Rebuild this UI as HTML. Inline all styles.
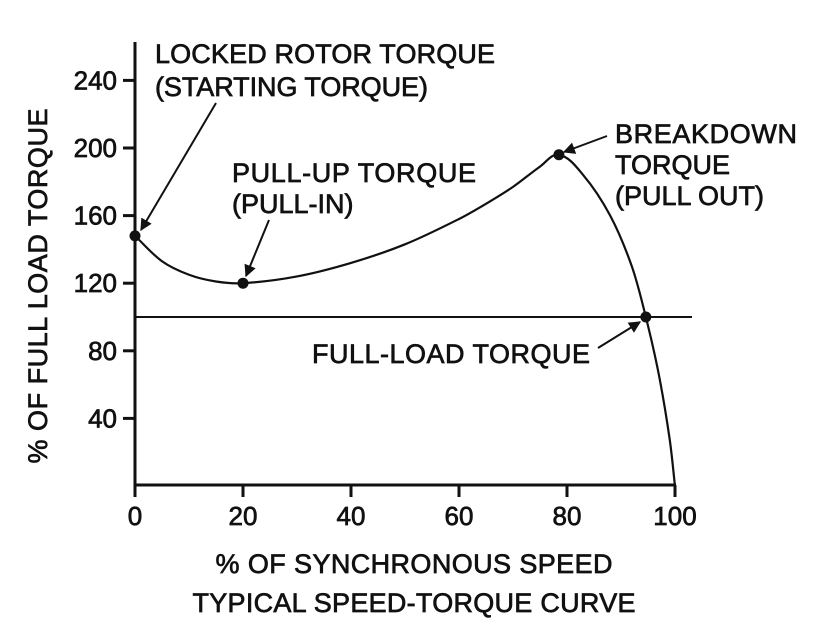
<!DOCTYPE html>
<html><head><meta charset="utf-8"><style>
body{margin:0;background:#fff}
svg text{font-family:"Liberation Sans",Arial,sans-serif;fill:#111;stroke:#111;stroke-width:0.7}
</style></head><body>
<svg id="chart" width="829" height="627" viewBox="0 0 829 627" xmlns="http://www.w3.org/2000/svg">
<defs><marker id="ah" viewBox="0 0 10 10" refX="9" refY="5" markerWidth="8" markerHeight="6" markerUnits="strokeWidth" orient="auto"><path d="M0,0L10,5L0,10z" fill="#111"/></marker></defs>
<g id="axes"></g><g id="marks"></g>
<g font-size="27">
<text x="155" y="63" textLength="340">LOCKED ROTOR TORQUE</text>
<text x="155" y="96" textLength="273">(STARTING TORQUE)</text>
<text x="232" y="182" textLength="244">PULL-UP TORQUE</text>
<text x="232" y="213">(PULL-IN)</text>
<text x="615" y="143" textLength="182">BREAKDOWN</text>
<text x="615" y="174">TORQUE</text>
<text x="615" y="205">(PULL OUT)</text>
<text x="312" y="363" textLength="278">FULL-LOAD TORQUE</text>
<text x="414" y="573" text-anchor="middle" textLength="397">% OF SYNCHRONOUS SPEED</text>
<text x="414" y="612" text-anchor="middle" textLength="443">TYPICAL SPEED-TORQUE CURVE</text>
<text transform="translate(47,286) rotate(-90)" text-anchor="middle" textLength="355">% OF FULL LOAD TORQUE</text>
</g>
<g>
<line x1="216" y1="103" x2="141" y2="230" stroke="#111" stroke-width="2" marker-end="url(#ah)"/>
<line x1="269" y1="220" x2="246" y2="276" stroke="#111" stroke-width="2" marker-end="url(#ah)"/>
<line x1="607" y1="136" x2="564" y2="152" stroke="#111" stroke-width="2" marker-end="url(#ah)"/>
<line x1="598" y1="348" x2="640" y2="322" stroke="#111" stroke-width="2" marker-end="url(#ah)"/>
</g>
</svg>
<script>
const xTicks=[0,20,40,60,80,100];
const yTicks=[40,80,120,160,200,240];
const speed=[0,5,10,15,20,30,40,50,60,65,70,75,78.5,83,88,92,94.6,97,99,100];
const torque=[148,133,125,121,120,124,132,143,158,167,177,189,196,184,160,130,100,66,28,0];
const keySpeed=[0,20,78.5,94.6];
const keyTorque=[148,120,196,100];
const fullLoad=100;
const sx=v=>135+v*5.4, sy=v=>486-v*1.69;
const NS="http://www.w3.org/2000/svg";
function mk(t,a,p){const e=document.createElementNS(NS,t);for(const k in a)e.setAttribute(k,a[k]);p.appendChild(e);return e;}
const ax=document.getElementById('axes'), mg=document.getElementById('marks');
let e=mk('line',{x1:135,y1:42,x2:135,y2:487,stroke:'#111','stroke-width':3},ax);


e=mk('line',{x1:134,y1:485,x2:676,y2:485,stroke:'#111','stroke-width':3},ax);


xTicks.forEach(v=>{mk('line',{x1:sx(v),y1:485,x2:sx(v),y2:497,stroke:'#111','stroke-width':3},ax);
const t=mk('text',{x:sx(v),y:525,'text-anchor':'middle','font-size':26},ax);t.textContent=v;

});
yTicks.forEach(v=>{mk('line',{x1:123,y1:sy(v),x2:135,y2:sy(v),stroke:'#111','stroke-width':3},ax);
const t=mk('text',{x:117,y:sy(v)+9,'text-anchor':'end','font-size':26},ax);t.textContent=v;

});
e=mk('line',{x1:135,y1:sy(fullLoad),x2:692,y2:sy(fullLoad),stroke:'#111','stroke-width':2},mg);


const P=speed.map((s,i)=>[sx(s),sy(torque[i])]);
const n=P.length;
const T=P.map((p,i)=>{const a=P[Math.max(0,i-1)],b=P[Math.min(n-1,i+1)];
const dx=b[0]-a[0],dy=b[1]-a[1];return [dx,dy].map(v=>v/Math.hypot(dx,dy));});
let d='M'+P[0][0]+','+P[0][1];
for(let i=0;i<n-1;i++){const p1=P[i],p2=P[i+1];const L=Math.hypot(p2[0]-p1[0],p2[1]-p1[1])/3;
d+=` C${p1[0]+T[i][0]*L},${p1[1]+T[i][1]*L} ${p2[0]-T[i+1][0]*L},${p2[1]-T[i+1][1]*L} ${p2[0]},${p2[1]}`;}
e=mk('path',{d:d,fill:'none',stroke:'#111','stroke-width':2.2},mg);


keySpeed.forEach((s,i)=>{const c=mk('circle',{cx:sx(s),cy:sy(keyTorque[i]),r:5.5,fill:'#111'},mg);

});
</script>
</body></html>
